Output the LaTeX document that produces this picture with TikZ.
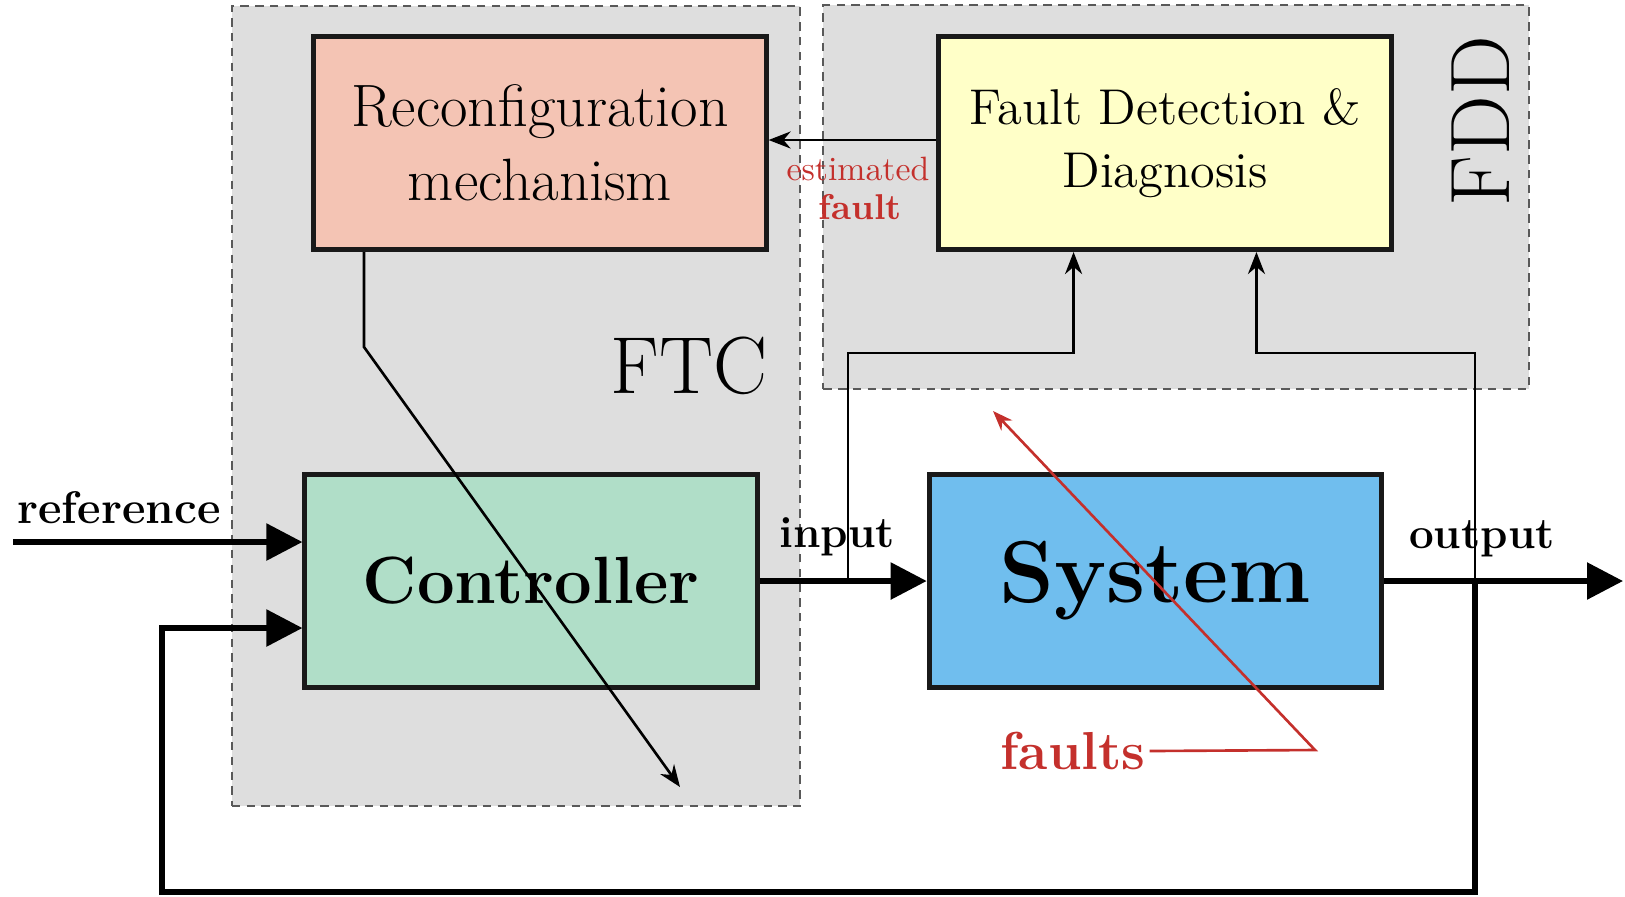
\documentclass[tikz,border=0pt]{standalone}
\usetikzlibrary{
    arrows.meta,
    calc,
    positioning
}
\definecolor{regiongray}{RGB}{222,222,222}
\definecolor{reconfred}{RGB}{244,196,180}
\definecolor{fddyellow}{RGB}{255,255,200}
\definecolor{ctrlgreen}{RGB}{176,222,200}
\definecolor{sysblue}{RGB}{112,190,238}
\definecolor{faultred}{RGB}{196,48,44}

\begin{document}
\begin{tikzpicture}[
    x=0.01cm, y=-0.01cm,
    regionbox/.style = {rectangle, draw=black!65, fill=regiongray,
                        line width=0.6pt, dash pattern=on 2.4pt off 1.8pt,
                        inner sep=0pt},
    blockbox/.style = {rectangle, draw=black!90, line width=1.4pt,
                       minimum width=4.52cm, minimum height=2.13cm,
                       align=center, inner sep=0pt},
    sigarrow/.style = {line width=1.6pt, -{Triangle[length=0.36cm, width=0.36cm]}},
    thinarrow/.style = {line width=0.75pt, -{Stealth[length=0.22cm, width=0.17cm]}},
    faultarrow/.style = {line width=0.75pt, draw=faultred, -{Stealth[length=0.2cm, width=0.15cm]}}
]
    \useasboundingbox (0,0) rectangle (1625,896);

    % shaded regions
    \node[regionbox, minimum width=5.68cm, minimum height=8.0cm] (FTCR) at (516,406) {};
    \node[regionbox, minimum width=7.05cm, minimum height=3.83cm] (FDDR) at (1176,197) {};
    \node[font=\fontsize{23}{27}\selectfont] (FTCL) at (689,366) {FTC};
    \node[font=\fontsize{24}{28}\selectfont, rotate=90] (FDDL) at (1481,121) {FDD};

    % blocks
    \node[blockbox, fill=reconfred, font=\fontsize{17}{21}\selectfont] (RC) at (540,143) {Reconfiguration\\mechanism};
    \node[blockbox, fill=fddyellow, font=\fontsize{14.3}{18}\selectfont] (FD) at (1165,143) {Fault Detection \&\\Diagnosis};
    \node[blockbox, fill=ctrlgreen, font=\fontsize{19}{23}\selectfont\bfseries] (CT) at (531,581) {Controller};
    \node[blockbox, fill=sysblue, font=\fontsize{25}{30}\selectfont\bfseries] (SY) [right=1.67cm of CT] {System};

    % signal points
    \coordinate (refin) at (13,542);
    \coordinate (fbin) at (CT.west |- 0,628);
    \coordinate (inbr) at (848,581);
    \coordinate (outbr) at (1475,581);
    \coordinate (out) at (1623,581);
    \coordinate (adapt) at (680,787);

    % labels
    \node[font=\fontsize{13}{15}\selectfont\bfseries] (REFL) at (119,508) {reference};
    \node[font=\fontsize{12.5}{15}\selectfont\bfseries] (INL) at (837,537) {input};
    \node[font=\fontsize{12.5}{15}\selectfont\bfseries] (OUTL) at (1482,539) {output};
    \node[font=\fontsize{9.6}{11}\selectfont, text=faultred] (ESTL) at (858,169) {estimated};
    \node[font=\fontsize{10.2}{12}\selectfont\bfseries, text=faultred] (FLTL) at (860,207) {fault};
    \node[font=\fontsize{15.2}{18}\selectfont\bfseries, text=faultred, inner sep=1pt] (FL) at (1073,751) {faults};

    % main signal path
    \draw[sigarrow] (refin) -- (CT.west |- refin);
    \draw[sigarrow] (CT.east) -- (SY.west);
    \draw[sigarrow] (SY.east) -- (out);
    \draw[sigarrow] (outbr) -- (1475,892) -| (162,628) -- (fbin);

    % FDD and reconfiguration
    \draw[thinarrow] (inbr) -- (848,353) -| ($(FD.south west)!0.3!(FD.south east)$);
    \draw[thinarrow] (outbr) -- (1475,353) -| ($(FD.south west)!0.7!(FD.south east)$);
    \draw[thinarrow] (FD.west |- 0,140) -- (RC.east |- 0,140);
    \draw[thinarrow] (RC.south -| 364,0) -- (364,347) -- (adapt);

    % faults
    \draw[faultarrow] (FL.east) -- (1315,750) -- (993,411);

\end{tikzpicture}
\end{document}
